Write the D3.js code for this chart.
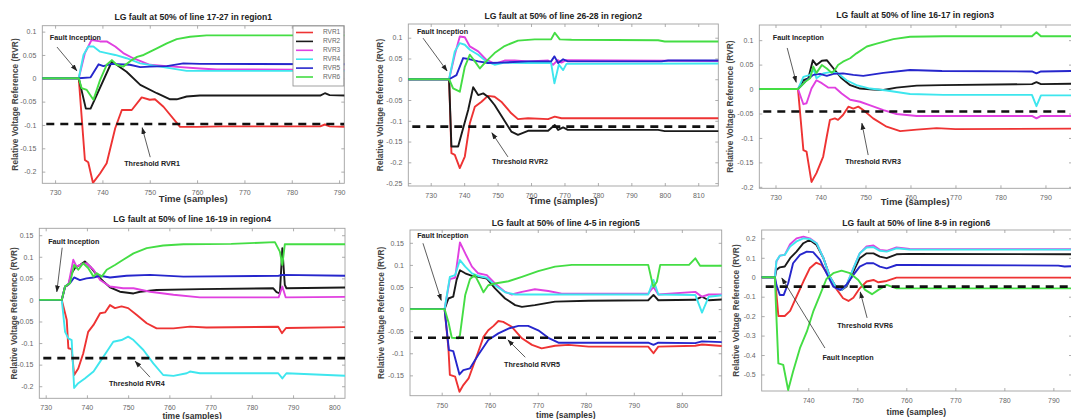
<!DOCTYPE html>
<html><head><meta charset="utf-8">
<script src="https://cdn.jsdelivr.net/npm/d3@7"></script>
<style>body{margin:0;background:#fff;} svg{display:block;font-family:"Liberation Sans",Arial,sans-serif;}</style>
</head><body><svg id="c" width="1071" height="419"></svg>
<script>
const SERIES_NAMES = ["RVR1","RVR2","RVR3","RVR4","RVR5","RVR6"];
const SERIES_COLORS = ["#ee3333","#1a1a1a","#e040e0","#3ee6ee","#2626cc","#44dd44"];

// ---------- Region 1 ----------
const R1_TITLE = "LG fault at 50% of line 17-27 in region1";
const R1_RVR1 = [[727,0],[735,0],[736.3,-0.175],[737,-0.18],[738,-0.224],[739.5,-0.204],[740.9,-0.182],[742.7,-0.107],[744.1,-0.068],[746.2,-0.068],[748.3,-0.041],[750,-0.046],[751.1,-0.045],[752.9,-0.061],[756.4,-0.104],[760,-0.104],[765,-0.103],[786,-0.103],[787,-0.099],[788,-0.103],[792,-0.104]];
const R1_RVR2 = [[727,0],[735,0],[736.5,-0.065],[737.5,-0.065],[742,0.036],[745.1,0.014],[748,-0.014],[751.5,-0.032],[754.3,-0.045],[755.7,-0.045],[757.8,-0.039],[760.6,-0.037],[786,-0.037],[787,-0.032],[788,-0.036],[792,-0.037]];
const R1_RVR3 = [[727,0],[735,0],[736.3,0.054],[737.7,0.082],[739.5,0.079],[740.9,0.079],[742.7,0.068],[744.4,0.054],[746.5,0.043],[750,0.029],[753.6,0.026],[760.6,0.021],[764.2,0.019],[792,0.018]];
const R1_RVR4 = [[727,0],[735,0],[736,0.05],[737,0.068],[738.1,0.068],[739.5,0.057],[740.9,0.054],[742.7,0.05],[745.1,0.043],[748,0.032],[752.2,0.025],[757.8,0.016],[792,0.016]];
const R1_RVR5 = [[727,0],[735,0],[737.5,0.002],[739.2,0.03],[740.2,0.026],[742,0.031],[745.8,0.029],[748,0.024],[750,0.025],[753.6,0.026],[757.1,0.032],[760.6,0.031],[792,0.03]];
const R1_RVR6 = [[727,0],[735,0],[735.6,-0.021],[736.7,-0.025],[738.1,-0.046],[739.5,-0.004],[740.9,0.029],[742,0.039],[743,0.029],[744.4,0.025],[746.2,0.039],[747.3,0.046],[748.7,0.05],[750.1,0.057],[751.5,0.064],[753.6,0.075],[755.7,0.084],[758.5,0.089],[762,0.092],[792,0.092]];
const R1_THRESHOLD = -0.098;
const R1_XTICKS = [730,740,750,760,770,780,790];
const R1_YTICKS = [0.1,0.05,0,-0.05,-0.1,-0.15,-0.2];

// ---------- Region 2 ----------
const R2_TITLE = "LG fault at 50% of line 26-28 in region2";
const R2_RVR1 = [[722,0],[735.5,0],[736.2,-0.178],[737.2,-0.182],[738.7,-0.214],[740.2,-0.186],[741.7,-0.106],[743.2,-0.066],[745.2,-0.054],[747.1,-0.04],[749.1,-0.042],[751.1,-0.054],[754.1,-0.082],[756.1,-0.096],[759.1,-0.094],[765.1,-0.096],[767.1,-0.09],[769.1,-0.094],[817,-0.094]];
const R2_RVR2 = [[722,0],[735.5,0],[736.2,-0.162],[738.2,-0.162],[741.2,-0.074],[742.7,-0.019],[744.2,-0.038],[745.7,-0.034],[747.1,-0.042],[749.1,-0.062],[751.6,-0.094],[754.1,-0.126],[756.1,-0.134],[759.1,-0.124],[765.1,-0.124],[767.1,-0.11],[768.1,-0.122],[769.6,-0.116],[771,-0.122],[798,-0.122],[800,-0.125],[817,-0.125]];
const R2_RVR3 = [[722,0],[735.5,0],[737.2,0.059],[738.7,0.103],[740.2,0.101],[741.7,0.079],[744.2,0.067],[746.6,0.047],[749.1,0.037],[752.1,0.045],[755.1,0.045],[759.1,0.043],[765.1,0.045],[766.6,0.035],[768,0.046],[769.1,0.04],[770.5,0.046],[817,0.044]];
const R2_RVR4 = [[722,0],[735.5,0],[737.2,0.067],[738.7,0.087],[740.2,0.083],[741.7,0.071],[744.2,0.059],[746.6,0.043],[749.1,0.035],[752.1,0.04],[759.1,0.039],[766,0.039],[767,-0.01],[768.3,0.035],[769.6,0.022],[770.6,0.037],[817,0.038]];
const R2_RVR5 = [[722,0],[735.5,0],[737.7,0.01],[739.7,0.051],[741.7,0.048],[744.2,0.043],[747.1,0.039],[751.1,0.04],[759.1,0.043],[766,0.043],[767,0.055],[768.1,0.039],[769.6,0.048],[771,0.043],[799,0.043],[801,0.045],[817,0.045]];
const R2_RVR6 = [[722,0],[735.5,0],[736.7,-0.022],[738.7,-0.03],[740.2,0.03],[741.7,0.059],[743.2,0.043],[744.7,0.026],[746.6,0.043],[749.1,0.063],[752.1,0.08],[756.1,0.093],[761.1,0.096],[766,0.096],[767.1,0.112],[768.6,0.096],[772.1,0.095],[798,0.094],[800,0.091],[817,0.091]];
const R2_THRESHOLD = -0.114;
const R2_XTICKS = [730,740,750,760,770,780,790,800,810];
const R2_YTICKS = [0.1,0.05,0,-0.05,-0.1,-0.15,-0.2,-0.25];

// ---------- Region 3 ----------
const R3_TITLE = "LG fault at 50% of line 16-17 in region3";
const R3_RVR1 = [[725,0],[735,0],[736.2,-0.125],[736.9,-0.128],[738,-0.19],[739.1,-0.172],[740.6,-0.138],[741.4,-0.097],[742.1,-0.063],[743.2,-0.06],[743.9,-0.063],[745,-0.053],[746.2,-0.036],[747.3,-0.04],[748.4,-0.036],[749.5,-0.043],[751.7,-0.06],[754.7,-0.077],[757.7,-0.086],[761.4,-0.083],[765.8,-0.08],[770,-0.082],[797,-0.081]];
const R3_RVR2 = [[725,0],[735,0],[736.2,0.018],[737.3,0.022],[738.3,0.059],[739.1,0.049],[740.3,0.058],[741.4,0.059],[742.9,0.042],[744.7,0.022],[746.6,0.008],[748.8,0.001],[751.7,-0.001],[754,-0.002],[756.9,0.003],[761.4,0.007],[767,0.008],[787,0.01],[788,0.014],[789,0.01],[797,0.011]];
const R3_RVR3 = [[725,0],[735,0],[736.2,-0.031],[736.9,-0.029],[738,0.001],[739.1,0.018],[740.3,0.012],[741.7,0.003],[743.2,0.003],[744.7,-0.009],[746.6,-0.022],[748.8,-0.026],[750.9,-0.033],[754,-0.043],[756.9,-0.051],[761.4,-0.055],[787,-0.055],[788,-0.06],[789,-0.055],[797,-0.055]];
const R3_RVR4 = [[725,0],[735,0],[736.2,0.025],[737.7,0.029],[738.4,0.042],[739.1,0.022],[740.6,0.032],[742.5,0.035],[743.9,0.032],[745.8,0.018],[748,0.008],[751,0.001],[754.7,-0.003],[759.9,-0.01],[767.3,-0.012],[787,-0.012],[788,-0.035],[789,-0.013],[797,-0.013]];
const R3_RVR5 = [[725,0],[735,0],[736.9,0.018],[738.4,0.029],[739.9,0.031],[741.4,0.027],[742.9,0.031],[745,0.032],[747.3,0.029],[749.5,0.027],[754,0.033],[759.9,0.039],[767,0.037],[787,0.036],[788,0.032],[789,0.036],[797,0.037]];
const R3_RVR6 = [[725,0],[735,0],[736.6,0.015],[737.7,0.022],[738.4,0.046],[739.1,0.033],[740.3,0.049],[741.4,0.042],[742.5,0.033],[743.2,0.039],[743.9,0.049],[745,0.056],[746.6,0.063],[748,0.073],[750.3,0.087],[752.5,0.093],[756.2,0.102],[759.9,0.107],[767.3,0.108],[787,0.108],[788,0.116],[789,0.108],[797,0.108]];
const R3_THRESHOLD = -0.046;
const R3_XTICKS = [730,740,750,760,770,780,790];
const R3_YTICKS = [0.1,0.05,0,-0.05,-0.1,-0.15,-0.2];

// ---------- Region 4 ----------
const R4_TITLE = "LG fault at 50% of line 16-19 in region4";
const R4_RVR1 = [[727,0],[733.9,0],[735.1,-0.046],[735.5,-0.112],[736.3,-0.114],[736.9,-0.174],[737.9,-0.159],[739.1,-0.124],[740.3,-0.074],[741.6,-0.058],[743.2,-0.031],[744.4,-0.029],[745.6,-0.012],[746.8,-0.019],[748.4,-0.015],[750,-0.019],[752.1,-0.035],[754.5,-0.054],[756.9,-0.066],[761,-0.066],[765,-0.062],[769,-0.064],[786.4,-0.062],[787.3,-0.077],[788.3,-0.065],[803,-0.063]];
const R4_RVR2 = [[727,0],[733.9,0],[734.7,0.031],[735.5,0.035],[736.3,0.062],[737.1,0.074],[738.3,0.081],[739.5,0.089],[740.8,0.077],[742.4,0.058],[744,0.043],[745.6,0.029],[748,0.019],[751.3,0.015],[752.9,0.019],[756.9,0.023],[767.4,0.025],[785.2,0.027],[786,0.018],[786.8,0.015],[787.4,0.12],[788,0.035],[788.4,0.027],[803,0.029]];
const R4_RVR3 = [[727,0],[733.9,0],[734.7,0.031],[735.5,0.035],[736.7,0.093],[737.5,0.077],[738.7,0.083],[739.9,0.085],[741.6,0.07],[743.2,0.046],[745.6,0.031],[748.8,0.027],[751.3,0.027],[755.3,0.019],[761,0.012],[767.4,0.006],[786.5,0.006],[787.4,0.031],[788.2,0.006],[803,0.007]];
const R4_RVR4 = [[727,0],[733.9,0],[734.7,-0.074],[735.5,-0.089],[736.3,-0.093],[736.9,-0.204],[737.9,-0.193],[739.5,-0.182],[741.6,-0.166],[743.2,-0.143],[744.8,-0.12],[746.4,-0.097],[748.4,-0.093],[750,-0.085],[751.3,-0.093],[753.7,-0.116],[756.1,-0.147],[758.5,-0.174],[761,-0.176],[764.2,-0.17],[765,-0.166],[767.4,-0.17],[786.4,-0.17],[787.4,-0.182],[788.4,-0.17],[803,-0.176]];
const R4_RVR5 = [[727,0],[733.9,0],[734.7,0.031],[735.9,0.039],[736.9,0.052],[738.3,0.046],[739.9,0.05],[741.6,0.052],[743.2,0.056],[745.6,0.052],[749.6,0.056],[755.3,0.058],[763.4,0.054],[786.5,0.056],[787.4,0.058],[803,0.056]];
const R4_RVR6 = [[727,0],[733.9,0],[734.7,0.031],[735.9,0.039],[736.9,0.081],[737.9,0.07],[739.1,0.085],[740.3,0.074],[741.6,0.054],[742.4,0.062],[743.6,0.054],[744.8,0.07],[746.8,0.081],[748.8,0.093],[751.3,0.108],[754.5,0.12],[758.5,0.126],[763.4,0.129],[775,0.13],[785.6,0.134],[786.8,0.112],[787.4,0.081],[788,0.129],[803,0.129]];
const R4_THRESHOLD = -0.135;
const R4_XTICKS = [730,740,750,760,770,780,790,800];
const R4_YTICKS = [0.15,0.1,0.05,0,-0.05,-0.1,-0.15,-0.2];

// ---------- Region 5 ----------
const R5_TITLE = "LG fault at 50% of line 4-5 in region5";
const R5_RVR1 = [[743,0],[750.6,0],[751.4,-0.089],[751.7,-0.149],[752.8,-0.153],[753.7,-0.187],[754.5,-0.172],[755.6,-0.157],[756.6,-0.127],[757.6,-0.097],[758.7,-0.063],[759.7,-0.048],[760.8,-0.038],[761.8,-0.027],[762.8,-0.029],[764.6,-0.04],[766.7,-0.066],[768.8,-0.081],[770.8,-0.089],[773.6,-0.083],[776.4,-0.081],[780.6,-0.085],[793,-0.085],[794.1,-0.1],[795.1,-0.085],[802.8,-0.083],[804.2,-0.08],[809,-0.084]];
const R5_RVR2 = [[743,0],[750.6,0],[751.4,0.024],[752.4,0.028],[753.1,0.066],[753.8,0.088],[754.9,0.081],[756.3,0.075],[757.6,0.073],[759.4,0.069],[761.1,0.047],[763.2,0.024],[765.3,0.009],[766.7,0.005],[769.4,0.009],[773.6,0.017],[780.6,0.019],[793,0.02],[794.1,0.032],[795.1,0.02],[802.8,0.021],[804.2,0.028],[805.6,0.02],[809,0.022]];
const R5_RVR3 = [[743,0],[750.6,0],[751.7,0.068],[752.8,0.071],[753.8,0.151],[754.9,0.126],[756.3,0.096],[757.6,0.081],[759.4,0.077],[761.1,0.058],[763.2,0.039],[764.6,0.033],[766.7,0.039],[769.4,0.045],[772.2,0.041],[775,0.035],[793,0.035],[794.1,0.05],[795.1,0.033],[802.8,0.039],[804.2,0.028],[805.6,0.033],[809,0.033]];
const R5_RVR4 = [[743,0],[750.6,0],[751.7,0.073],[752.8,0.077],[753.8,0.111],[754.9,0.096],[756.3,0.081],[757.6,0.075],[759.4,0.071],[761.1,0.054],[763.2,0.038],[765.3,0.033],[793,0.033],[794.1,0.066],[795.1,0.033],[802.8,0.032],[804.2,-0.008],[805.6,0.028],[809,0.032]];
const R5_RVR5 = [[743,0],[750.6,0],[751.5,-0.093],[752.4,-0.095],[753.7,-0.148],[754.5,-0.138],[755.9,-0.134],[757.6,-0.104],[759.7,-0.07],[761.8,-0.055],[763.9,-0.044],[766,-0.038],[768,-0.038],[770.1,-0.048],[772.2,-0.065],[774.3,-0.076],[777.1,-0.076],[793,-0.076],[794.1,-0.081],[795.1,-0.076],[802.8,-0.077],[804.2,-0.073],[809,-0.075]];
const R5_RVR6 = [[743,0],[750.6,0],[751.4,-0.029],[752.1,-0.065],[753.5,-0.066],[753.8,-0.059],[754.9,0.032],[755.9,0.068],[756.9,0.077],[758,0.054],[758.7,0.038],[759.7,0.054],[761.1,0.058],[763.9,0.063],[766.7,0.073],[770.1,0.086],[773.6,0.096],[777.1,0.1],[793,0.1],[793.8,0.062],[794.1,0.05],[794.8,0.062],[795.5,0.1],[801.5,0.1],[802.8,0.115],[803.8,0.098],[809,0.098]];
const R5_THRESHOLD = -0.065;
const R5_XTICKS = [750,760,770,780,790,800];
const R5_YTICKS = [0.15,0.1,0.05,0,-0.05,-0.1,-0.15];

// ---------- Region 6 ----------
const R6_TITLE = "LG fault at 50% of line 8-9 in region6";
const R6_RVR1 = [[730,0],[733.2,0],[733.4,-0.057],[733.9,-0.199],[735.2,-0.199],[736.3,-0.173],[737.6,-0.1],[739,-0.022],[740.3,0.046],[741.6,0.075],[742.7,0.063],[744.1,0.012],[745.4,-0.048],[747.1,-0.108],[748.2,-0.122],[749.2,-0.105],[750.5,-0.057],[751.9,-0.022],[753.3,-0.014],[754.3,-0.026],[756,-0.019],[758,-0.002],[794,-0.002]];
const R6_RVR2 = [[730,0],[733.2,0],[733.5,0.038],[734.2,0.051],[735.2,0.055],[736.3,0.098],[737.6,0.132],[739,0.175],[740.3,0.192],[741.7,0.166],[743.1,0.098],[744.4,0.003],[745.8,-0.057],[746.8,-0.065],[747.8,-0.048],[749.2,0.029],[750.5,0.098],[751.9,0.123],[753.3,0.123],[754.6,0.106],[756,0.098],[758,0.118],[760.7,0.12],[794,0.118]];
const R6_RVR3 = [[730,0],[733.2,0],[733.5,0.081],[734.2,0.111],[735.2,0.115],[736.3,0.17],[737.6,0.2],[739,0.209],[740.3,0.2],[741.7,0.175],[743.1,0.098],[744.4,0.003],[745.8,-0.057],[746.8,-0.065],[747.8,-0.04],[749.2,0.046],[750.5,0.123],[751.9,0.158],[753.3,0.163],[754.6,0.141],[756,0.136],[758,0.153],[760.7,0.146],[794,0.144]];
const R6_RVR4 = [[730,0],[733.2,0],[733.5,0.083],[734.2,0.111],[735.2,0.115],[736.3,0.158],[737.6,0.184],[739,0.2],[740.3,0.197],[741.7,0.175],[743.1,0.098],[744.4,0.003],[745.8,-0.057],[746.8,-0.065],[747.8,-0.04],[749.2,0.046],[750.5,0.123],[751.9,0.153],[753.3,0.155],[754.6,0.136],[756,0.132],[758,0.149],[760.7,0.142],[794,0.142]];
const R6_RVR5 = [[730,0],[733.2,0],[733.5,-0.039],[734.2,-0.091],[735,-0.091],[735.9,-0.031],[736.9,0.072],[738.3,0.115],[739.7,0.132],[741,0.129],[742.4,0.089],[743.7,0.021],[745.1,-0.048],[746.5,-0.065],[747.8,-0.039],[749.2,0.012],[750.5,0.055],[751.9,0.072],[753.3,0.072],[754.6,0.055],[756,0.046],[758,0.063],[760.7,0.063],[791,0.06],[792.3,0.055],[794,0.057]];
const R6_RVR6 = [[730,0],[733.2,0],[733.4,-0.142],[733.9,-0.443],[734.9,-0.451],[735.9,-0.58],[736.9,-0.485],[738.3,-0.365],[739.7,-0.28],[741,-0.177],[742.4,-0.091],[743.7,-0.009],[745.1,0.021],[746.8,0.034],[748.5,0.021],[750.2,-0.014],[751.6,-0.065],[753,-0.087],[754.3,-0.065],[756,-0.039],[758,-0.057],[794,-0.057]];
const R6_THRESHOLD = -0.048;
const R6_XTICKS = [740,750,760,770,780,790];
const R6_YTICKS = [0.2,0.1,0,-0.1,-0.2,-0.3,-0.4,-0.5];

const Y_LABEL = "Relative Voltage Reference (RVR)";
const FAULT_LABEL = "Fault Inception";

// ---------- layout (positions / styles) ----------
const panels = [
  {title:R1_TITLE, series:[R1_RVR1,R1_RVR2,R1_RVR3,R1_RVR4,R1_RVR5,R1_RVR6], thr:R1_THRESHOLD, thrLabel:"Threshold RVR1",
   xt:R1_XTICKS, yt:R1_YTICKS, xd:[727.3,791.1], yd:[-0.225,0.1127], box:[42.3,344.3,25.7,183.3],
   xLabel:"Time (samples)", xLabelY:202, xLabelSize:9.5, titleY:20, yLabelX:16, legend:true,
   fault:{text:[728.9,0.086], from:[730.4,0.067], to:[734.6,0.016], anchor:"start"},
   thrA:{text:[750.5,-0.184], from:[750.1,-0.169], to:[748.4,-0.106]}},
  {title:R2_TITLE, series:[R2_RVR1,R2_RVR2,R2_RVR3,R2_RVR4,R2_RVR5,R2_RVR6], thr:R2_THRESHOLD, thrLabel:"Threshold RVR2",
   xt:R2_XTICKS, yt:R2_YTICKS, xd:[723.3,816.0], yd:[-0.257,0.133], box:[408.3,718.3,24,186],
   xLabel:"Time (samples)", xLabelY:204, xLabelSize:9.5, titleY:19, yLabelX:381,
   fault:{text:[725.9,0.114], from:[727.7,0.099], to:[734.9,0.02], anchor:"start"},
   thrA:{text:[756.7,-0.199], from:[753.1,-0.187], to:[748.3,-0.129]}},
  {title:R3_TITLE, series:[R3_RVR1,R3_RVR2,R3_RVR3,R3_RVR4,R3_RVR5,R3_RVR6], thr:R3_THRESHOLD, thrLabel:"Threshold RVR3",
   xt:R3_XTICKS, yt:R3_YTICKS, xd:[726.4,795.9], yd:[-0.203,0.131], box:[759.3,1072,25,188.3],
   xLabel:"Time (samples)", xLabelY:205, xLabelSize:9.5, titleY:18, yLabelX:731,
   fault:{text:[729.4,0.104], from:[732.6,0.084], to:[734.6,0.014], anchor:"start"},
   thrA:{text:[751.7,-0.149], from:[750.6,-0.135], to:[749.2,-0.07]}},
  {title:R4_TITLE, series:[R4_RVR1,R4_RVR2,R4_RVR3,R4_RVR4,R4_RVR5,R4_RVR6], thr:R4_THRESHOLD, thrLabel:"Threshold RVR4",
   xt:R4_XTICKS, yt:R4_YTICKS, xd:[728.45,802.6], yd:[-0.228,0.166], box:[39.3,345,228.3,398.3],
   xLabel:"time (samples)", xLabelY:419, xLabelSize:8.5, titleY:222, yLabelX:15,
   fault:{text:[730.6,0.135], from:[734,0.121], to:[732.7,0.019], anchor:"start"},
   thrA:{text:[752.1,-0.195], from:[755.3,-0.179], to:[751.7,-0.142]}},
  {title:R5_TITLE, series:[R5_RVR1,R5_RVR2,R5_RVR3,R5_RVR4,R5_RVR5,R5_RVR6], thr:R5_THRESHOLD, thrLabel:"Threshold RVR5",
   xt:R5_XTICKS, yt:R5_YTICKS, xd:[743.4,808.3], yd:[-0.196,0.179], box:[410,721.7,230,395.7],
   xLabel:"time (samples)", xLabelY:418, xLabelSize:8.5, titleY:226, yLabelX:382,
   fault:{text:[744.9,0.165], from:[746.1,0.149], to:[749.9,0.02], anchor:"start"},
   thrA:{text:[768.8,-0.127], from:[767.4,-0.109], to:[763.8,-0.07]}},
  {title:R6_TITLE, series:[R6_RVR1,R6_RVR2,R6_RVR3,R6_RVR4,R6_RVR5,R6_RVR6], thr:R6_THRESHOLD, thrLabel:"Threshold RVR6",
   xt:R6_XTICKS, yt:R6_YTICKS, xd:[730.5,793.8], yd:[-0.585,0.243], box:[761.7,1072,230,391],
   xLabel:"time (samples)", xLabelY:415, xLabelSize:8.5, titleY:226, yLabelX:737,
   fault:{text:[748.1,-0.415], from:[743.4,-0.364], to:[734.6,-0.004], anchor:"middle"},
   thrA:{text:[751.6,-0.251], from:[752,-0.209], to:[750.6,-0.076]}}
];

const svg = d3.select("#c");
const defs = svg.append("defs");
defs.append("marker").attr("id","ah").attr("viewBox","0 0 10 10").attr("refX",9).attr("refY",5)
  .attr("markerWidth",7).attr("markerHeight",7).attr("orient","auto-start-reverse")
  .attr("markerUnits","userSpaceOnUse")
  .append("path").attr("d","M0,1.5 L10,5 L0,8.5 Z").attr("fill","#222");

panels.forEach((p,i)=>{
  const [L,R,T,B] = p.box;
  const x = d3.scaleLinear().domain(p.xd).range([L,R]);
  const y = d3.scaleLinear().domain(p.yd).range([B,T]);
  const g = svg.append("g");
  defs.append("clipPath").attr("id","clip"+i).append("rect")
    .attr("x",L).attr("y",T).attr("width",R-L).attr("height",B-T);

  // axes box
  g.append("rect").attr("x",L).attr("y",T).attr("width",R-L).attr("height",B-T)
    .attr("fill","#fff").attr("stroke","#a0a0a0").attr("stroke-width",0.9);

  // axes with inside ticks
  const ax = g.append("g").attr("class","axes");
  const xb = d3.axisBottom(x).tickValues(p.xt).tickSize(-3).tickPadding(7).tickFormat(d=>String(d));
  const xtp = d3.axisTop(x).tickValues(p.xt).tickSize(-3).tickFormat("");
  const yl = d3.axisLeft(y).tickValues(p.yt).tickSize(-3).tickPadding(6).tickFormat(d=>String(d));
  const yr = d3.axisRight(y).tickValues(p.yt).tickSize(-3).tickFormat("");
  [[xb,`translate(0,${B})`],[xtp,`translate(0,${T})`],[yl,`translate(${L},0)`],[yr,`translate(${R},0)`]].forEach(([a,tr])=>{
    const s = ax.append("g").attr("transform",tr).call(a);
    s.select(".domain").remove();
    s.selectAll(".tick line").attr("stroke","#999").attr("stroke-width",0.8);
    s.selectAll(".tick text").attr("fill","#666").attr("font-size",7).attr("font-family","Liberation Sans, Arial, sans-serif");
  });

  // series
  const line = d3.line().x(d=>x(d[0])).y(d=>y(d[1]));
  const lg = g.append("g").attr("clip-path",`url(#clip${i})`);
  p.series.forEach((s,k)=>{
    lg.append("path").datum(s).attr("d",line).attr("fill","none")
      .attr("stroke",SERIES_COLORS[k]).attr("stroke-width",1.9).attr("stroke-linejoin","round");
  });
  // threshold
  lg.append("line").attr("x1",x(p.xd[0])).attr("x2",x(p.xd[1])).attr("y1",y(p.thr)).attr("y2",y(p.thr))
    .attr("stroke","#111").attr("stroke-width",2.6).attr("stroke-dasharray","8,6").attr("stroke-dashoffset",-4);

  // annotations
  const ann = (a,label)=>{
    g.append("line").attr("x1",x(a.from[0])).attr("y1",y(a.from[1])).attr("x2",x(a.to[0])).attr("y2",y(a.to[1]))
      .attr("stroke","#333").attr("stroke-width",0.8).attr("marker-end","url(#ah)");
    g.append("text").attr("x",x(a.text[0])).attr("y",y(a.text[1])).attr("text-anchor",a.anchor||"middle")
      .attr("dominant-baseline","middle").attr("font-size",7.2).attr("font-weight","bold").attr("fill","#222").text(label);
  };
  ann(p.fault, FAULT_LABEL);
  ann(p.thrA, p.thrLabel);

  // title
  g.append("text").attr("x",(L+Math.min(R,1071))/2 + (R>1071? 0:0)).attr("y",p.titleY).attr("text-anchor","middle")
    .attr("font-size",8.6).attr("font-weight","bold").attr("fill","#222").text(p.title);
  // x label
  g.append("text").attr("x",(L+Math.min(R,1071))/2).attr("y",p.xLabelY).attr("text-anchor","middle")
    .attr("font-size",p.xLabelSize).attr("font-weight","bold").attr("fill","#333").text(p.xLabel);
  // y label
  g.append("text").attr("transform",`translate(${p.yLabelX},${(T+B)/2}) rotate(-90)`).attr("text-anchor","middle")
    .attr("dominant-baseline","middle").attr("font-size",8.4).attr("font-weight","bold").attr("fill","#444").text(Y_LABEL);

  // legend
  if(p.legend){
    const lgx = 293, lgy = 26, lw = R - lgx - 0.5, lh = 60;
    const leg = g.append("g");
    leg.append("rect").attr("x",lgx).attr("y",lgy).attr("width",lw).attr("height",lh)
      .attr("fill","#fff").attr("stroke","#8a8a8a").attr("stroke-width",0.8);
    SERIES_NAMES.forEach((n,k)=>{
      const yy = lgy + 6.5 + k*8.9;
      leg.append("line").attr("x1",lgx+3).attr("x2",lgx+20).attr("y1",yy).attr("y2",yy)
        .attr("stroke",SERIES_COLORS[k]).attr("stroke-width",1.6);
      leg.append("text").attr("x",lgx+30).attr("y",yy).attr("dominant-baseline","middle")
        .attr("font-size",6.5).attr("fill","#666").text(n);
    });
  }
});
</script></body></html>
